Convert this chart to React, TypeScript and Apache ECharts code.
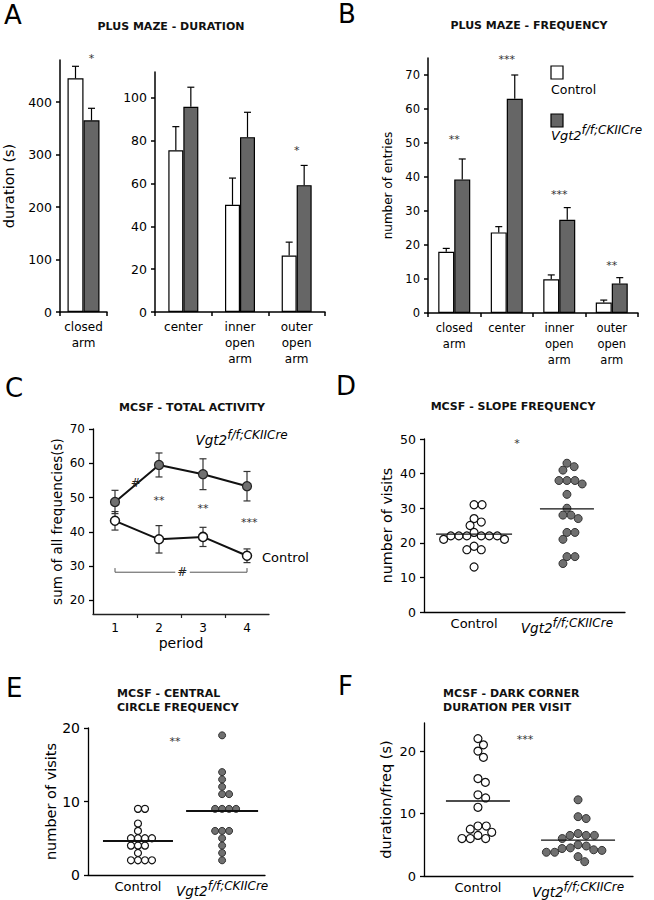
import React, { useEffect, useRef } from 'react';
import * as echarts from 'echarts';

const FONT = "'DejaVu Sans', Verdana, sans-serif";

// ---------- Panel A : plus maze duration ----------
const durClosedCats = ['closed\narm'];
const durClosedCtl = [445];
const durClosedCtlSem = [23];
const durClosedGt = [365];
const durClosedGtSem = [23];
const durClosedTicks = [0, 100, 200, 300, 400];
const durClosedStars = ['*'];
const durClosedStarY = [482];

const durArmCats = ['center', 'inner\nopen\narm', 'outer\nopen\narm'];
const durArmCtl = [75.5, 50, 26.4];
const durArmCtlSem = [11, 12.5, 6.2];
const durArmGt = [95.8, 81.6, 59.2];
const durArmGtSem = [9.1, 11.6, 9.2];
const durArmTicks = [0, 20, 40, 60, 80, 100];
const durArmStars = ['', '', '*'];
const durArmStarY = [0, 0, 75.5];

// ---------- Panel B : plus maze frequency ----------
const freqCats = ['closed\narm', 'center', 'inner\nopen\narm', 'outer\nopen\narm'];
const freqCtl = [18, 23.7, 9.9, 3.1];
const freqCtlSem = [1.0, 1.7, 1.3, 0.7];
const freqGt = [39.3, 63, 27.4, 8.7];
const freqGtSem = [6, 7, 3.6, 1.7];
const freqTicks = [0, 10, 20, 30, 40, 50, 60, 70];
const freqStars = ['**', '***', '***', '**'];
const freqStarY = [51, 74.5, 35, 14];

// ---------- Panel C : total activity ----------
const periods = [1, 2, 3, 4];
const actCtl = [43.2, 37.8, 38.5, 33];
const actCtlSem = [2.7, 4, 2.8, 2];
const actGt = [48.7, 59.5, 56.8, 53.3];
const actGtSem = [3.4, 3.5, 4.5, 4.3];
const actTicks = [20, 30, 40, 50, 60, 70];
const actStars = ['**', '**', '***'];
const actStarX = [2, 3, 4.05];
const actStarY = [49.2, 46.9, 42.8];

// ---------- Panels D, E, F : individual animals ----------
const slopeCtl = [31, 31, 27, 26, 25, 23, 22, 22, 22, 22, 22, 22, 21, 21, 19, 18, 18, 13];
const slopeGt = [43, 42, 41, 38, 38, 38, 37, 34, 30, 28, 28, 27, 23, 23, 21, 16, 16, 14];
const slopeTicks = [0, 10, 20, 30, 40, 50];

const circleCtl = [9, 9, 7, 6, 5, 5, 5, 5, 4, 4, 4, 3, 2, 2, 2, 2];
const circleGt = [19, 14, 13, 12, 11, 11, 9, 9, 9, 9, 6, 6, 6, 5, 4, 3, 2];
const circleTicks = [0, 10, 20];

const darkCtl = [22, 21, 20, 19, 15.6, 15, 13, 12.5, 11, 8, 8, 7.5, 7, 6.5, 6, 6, 6];
const darkGt = [12.2, 9.5, 9.2, 6.8, 6.5, 6.5, 6.5, 6.0, 5.0, 4.8, 4.5, 4.4, 4.2, 4.1, 3.8, 3.8, 3.1, 2.3];
const darkTicks = [0, 10, 20];

const groupNames = ['Control', 'Vgt2'];
const GT_RICH = '{it|Vgt2}{sup|f/f;CKIICre}';

// ---------- layout ----------
const GRIDS = [
  { left: 60, top: 60, width: 47, height: 252 },
  { left: 155, top: 72, width: 170, height: 240 },
  { left: 428, top: 58, width: 210, height: 255 },
  { left: 93, top: 429, width: 176, height: 185 },
  { left: 424, top: 439, width: 201, height: 173 },
  { left: 88, top: 728, width: 177, height: 147 },
  { left: 424, top: 723, width: 209, height: 153 },
];

const GRAY = '#666666';
const DOT_GRAY = '#707070';

function richFor(main: number, sup: number) {
  return {
    it: { fontFamily: FONT, fontStyle: 'italic', fontSize: main, fill: '#000', color: '#000' },
    sup: { fontFamily: FONT, fontStyle: 'italic', fontSize: sup, fill: '#000', color: '#000', padding: [0, 0, 10, 0] },
  };
}

function swarm(vals: number[], pxY: number, d: number): number[] {
  const order = vals.map((_, i) => i).sort((a, b) => vals[b] - vals[a]);
  const placed: { x: number; y: number }[] = [];
  const xs: number[] = new Array(vals.length).fill(0);
  for (const i of order) {
    const y = vals[i] * pxY;
    const forb: [number, number][] = [];
    for (const p of placed) {
      const dy = Math.abs(p.y - y);
      if (dy < d) {
        const w = Math.sqrt(d * d - dy * dy);
        forb.push([p.x - w, p.x + w]);
      }
    }
    const cands = [0];
    forb.forEach(([a, b]) => cands.push(a, b));
    cands.sort((a, b) => Math.abs(a) - Math.abs(b) || b - a);
    let x = 0;
    for (const c of cands) {
      if (forb.every(([a, b]) => c <= a + 1e-6 || c >= b - 1e-6)) { x = c; break; }
    }
    xs[i] = x;
    placed.push({ x, y });
  }
  return xs;
}

function errSeries(xi: number, data: number[][], shift: number, both: boolean, cap: number, color: string, lw: number, z = 5) {
  return {
    type: 'custom', xAxisIndex: xi, yAxisIndex: xi, z, silent: true, clip: false,
    data,
    renderItem: (_p: any, api: any) => {
      const x = api.value(0), v = api.value(1), e = api.value(2);
      const p = api.coord([x, v]);
      const hi = api.coord([x, v + e]);
      const lo = both ? api.coord([x, v - e]) : p;
      const cx = p[0] + shift;
      const st = { stroke: color, lineWidth: lw };
      const ch: any[] = [
        { type: 'line', shape: { x1: cx, y1: lo[1], x2: cx, y2: hi[1] }, style: st },
        { type: 'line', shape: { x1: cx - cap, y1: hi[1], x2: cx + cap, y2: hi[1] }, style: st },
      ];
      if (both) ch.push({ type: 'line', shape: { x1: cx - cap, y1: lo[1], x2: cx + cap, y2: lo[1] }, style: st });
      return { type: 'group', children: ch };
    },
  };
}

// Text annotations anchored in data space (custom series text elements).
function notes(xi: number, pts: any[][], fontSize: number, color: string, anchor: 'center' | 'left' = 'center', dx = 0, rich?: any) {
  const items = pts.filter(p => p[2] !== '');
  return {
    type: 'custom', xAxisIndex: xi, yAxisIndex: xi, silent: true, clip: false, z: 10,
    data: items.map((p, i) => [p[0], p[1], i]),
    renderItem: (params: any, api: any) => {
      const it = items[params.dataIndex];
      const c = api.coord([api.value(0), api.value(1)]);
      return {
        type: 'text', x: c[0] + dx, y: c[1],
        style: {
          text: it[2], fill: color, fontFamily: FONT, fontSize,
          align: anchor === 'left' ? 'left' : 'center', verticalAlign: 'middle', rich,
        },
      };
    },
  };
}

function yAx(gi: number, min: number, max: number, ticks: number[], fs: number, name: string, nameGap: number, nameSize: number, lw = 1.5) {
  return {
    type: 'value', gridIndex: gi, min, max,
    axisLine: { show: true, lineStyle: { color: '#000', width: lw } },
    axisTick: { show: true, length: 4, customValues: ticks, lineStyle: { color: '#000', width: lw } },
    axisLabel: { customValues: ticks, fontFamily: FONT, fontSize: fs, color: '#000', margin: 8 },
    splitLine: { show: false },
    name, nameLocation: 'middle', nameGap,
    nameTextStyle: { fontFamily: FONT, fontSize: nameSize, color: '#000' },
  };
}

function catAx(gi: number, data: string[], fs: number) {
  return {
    type: 'category', gridIndex: gi, data,
    axisLine: { lineStyle: { color: '#000', width: 1.5 } },
    axisTick: { show: true, length: 4, lineStyle: { color: '#000', width: 1.5 } },
    axisLabel: { fontFamily: FONT, fontSize: fs, color: '#000', lineHeight: 16, margin: 7, interval: 0 },
  };
}

function groupAx(gi: number, min: number, max: number) {
  return {
    type: 'value', gridIndex: gi, min, max,
    axisLine: { show: true, onZero: false, lineStyle: { color: '#000', width: 1.3 } },
    axisTick: { show: false },
    splitLine: { show: false },
    axisLabel: {
      customValues: [1, 2], margin: 5, fontFamily: FONT, fontSize: 13, color: '#000',
      formatter: (v: number) => (Math.round(v) === 1 ? groupNames[0] : GT_RICH),
      rich: richFor(13.5, 12),
    },
  };
}

function dotPanel(xi: number, ctl: number[], gt: number[], xr: number[], yMax: number, d: number, size: number, hw: number[], lw: number) {
  const g = GRIDS[xi];
  const pxX = g.width / (xr[1] - xr[0]);
  const pxY = g.height / yMax;
  const out: any[] = [];
  [ctl, gt].forEach((vals, k) => {
    const center = k + 1;
    const xs = swarm(vals, pxY, d);
    out.push({
      type: 'scatter', xAxisIndex: xi, yAxisIndex: xi, symbolSize: size, z: 4,
      data: vals.map((v, i) => [center + xs[i] / pxX, v]),
      itemStyle: k === 0
        ? { color: '#fff', borderColor: '#111', borderWidth: 1.2, opacity: 1 }
        : { color: DOT_GRAY, borderColor: '#333', borderWidth: 1, opacity: 1 },
    });
    const mean = vals.reduce((a, b) => a + b, 0) / vals.length;
    out.push({
      type: 'line', xAxisIndex: xi, yAxisIndex: xi, symbol: 'none', z: 5, silent: true,
      data: [[center - hw[k] / pxX, mean], [center + hw[k] / pxX, mean]],
      lineStyle: { color: '#111', width: lw },
    });
  });
  return out;
}

function buildOption(): any {
  const series: any[] = [];
  // Panel A closed
  series.push(
    { type: 'bar', xAxisIndex: 0, yAxisIndex: 0, data: durClosedCtl, barWidth: 16, barGap: '0%', itemStyle: { color: '#fff', borderColor: '#000', borderWidth: 1.2 } },
    { type: 'bar', xAxisIndex: 0, yAxisIndex: 0, data: durClosedGt, barWidth: 16, barGap: '0%', itemStyle: { color: GRAY, borderColor: '#000', borderWidth: 1.2 } },
    errSeries(0, durClosedCtl.map((v, i) => [i, v, durClosedCtlSem[i]]), -8, false, 3.5, '#000', 1.2),
    errSeries(0, durClosedGt.map((v, i) => [i, v, durClosedGtSem[i]]), 8, false, 3.5, '#000', 1.2),
    notes(0, durClosedStars.map((s, i) => [i, durClosedStarY[i], s]), 11, '#333', 'center', 8),
  );
  // Panel A arms
  series.push(
    { type: 'bar', xAxisIndex: 1, yAxisIndex: 1, data: durArmCtl, barWidth: 15, barGap: '0%', itemStyle: { color: '#fff', borderColor: '#000', borderWidth: 1.2 } },
    { type: 'bar', xAxisIndex: 1, yAxisIndex: 1, data: durArmGt, barWidth: 15, barGap: '0%', itemStyle: { color: GRAY, borderColor: '#000', borderWidth: 1.2 } },
    errSeries(1, durArmCtl.map((v, i) => [i, v, durArmCtlSem[i]]), -7.5, false, 3.5, '#000', 1.2),
    errSeries(1, durArmGt.map((v, i) => [i, v, durArmGtSem[i]]), 7.5, false, 3.5, '#000', 1.2),
    notes(1, durArmStars.map((s, i) => [i, durArmStarY[i], s]), 11, '#333'),
  );
  // Panel B
  series.push(
    { type: 'bar', xAxisIndex: 2, yAxisIndex: 2, data: freqCtl, barWidth: 16, barGap: '0%', itemStyle: { color: '#fff', borderColor: '#000', borderWidth: 1.2 } },
    { type: 'bar', xAxisIndex: 2, yAxisIndex: 2, data: freqGt, barWidth: 16, barGap: '0%', itemStyle: { color: GRAY, borderColor: '#000', borderWidth: 1.2 } },
    errSeries(2, freqCtl.map((v, i) => [i, v, freqCtlSem[i]]), -8, false, 3.5, '#000', 1.2),
    errSeries(2, freqGt.map((v, i) => [i, v, freqGtSem[i]]), 8, false, 3.5, '#000', 1.2),
    notes(2, freqStars.map((s, i) => [i, freqStarY[i], s]), 11, '#333'),
  );
  // Panel C
  series.push(
    errSeries(3, periods.map((p, i) => [p, actCtl[i], actCtlSem[i]]), 0, true, 3.5, '#333', 1.2, 2),
    errSeries(3, periods.map((p, i) => [p, actGt[i], actGtSem[i]]), 0, true, 3.5, '#333', 1.2, 2),
    {
      type: 'line', xAxisIndex: 3, yAxisIndex: 3, z: 4, symbol: 'circle', symbolSize: 9,
      data: periods.map((p, i) => [p, actCtl[i]]),
      lineStyle: { color: '#111', width: 2 },
      itemStyle: { color: '#fff', borderColor: '#111', borderWidth: 1.5 },
    },
    {
      type: 'line', xAxisIndex: 3, yAxisIndex: 3, z: 4, symbol: 'circle', symbolSize: 9,
      data: periods.map((p, i) => [p, actGt[i]]),
      lineStyle: { color: '#111', width: 2 },
      itemStyle: { color: DOT_GRAY, borderColor: '#222', borderWidth: 1.2 },
    },
    {
      type: 'line', xAxisIndex: 3, yAxisIndex: 3, symbol: 'none', silent: true,
      data: [[periods[0], 29.4], [periods[0], 28.2], [2.37, 28.2]],
      lineStyle: { color: '#555', width: 1 },
    },
    {
      type: 'line', xAxisIndex: 3, yAxisIndex: 3, symbol: 'none', silent: true,
      data: [[2.7, 28.2], [periods[3], 28.2], [periods[3], 29.4]],
      lineStyle: { color: '#555', width: 1 },
    },
    notes(3, actStars.map((s, i) => [actStarX[i], actStarY[i], s]), 11, '#333'),
    notes(3, [[1.47, 54.2, '#'], [2.53, 28.2, '#']], 12, '#222'),
    notes(3, [[2.83, 66.8, GT_RICH]], 13, '#000', 'left', 0, richFor(13.5, 12)),
    notes(3, [[4.34, 32.6, 'Control']], 13, '#000', 'left'),
  );
  // D, E, F
  series.push(...dotPanel(4, slopeCtl, slopeGt, [0.461, 2.625], 50, 8, 8, [38, 27], 1.3));
  series.push(notes(4, [[1.462, 48.8, '*']], 11, '#333'));
  series.push(...dotPanel(5, circleCtl, circleGt, [0.406, 2.51], 20, 7, 7, [35, 36], 2));
  series.push(notes(5, [[1.44, 18.1, '**']], 11, '#333'));
  series.push(...dotPanel(6, darkCtl, darkGt, [0.461, 2.549], 24.5, 8.3, 8, [32, 37], 1.3));
  series.push(notes(6, [[1.47, 21.9, '***']], 11, '#333'));

  const title = (x: number, y: number, text: string, align = 'center') => ({
    type: 'text', x, y, silent: true,
    style: {
      text, x: 0, y: 0, fill: '#111', fontFamily: FONT, fontWeight: 'bold', fontSize: 11, lineHeight: 14,
      align, textAlign: align, verticalAlign: 'middle', textVerticalAlign: 'middle',
    },
  });
  const letter = (x: number, y: number, text: string) => ({
    type: 'text', x, y, silent: true,
    style: {
      text, x: 0, y: 0, fill: '#000', fontFamily: FONT, fontSize: 26,
      align: 'left', textAlign: 'left', verticalAlign: 'middle', textVerticalAlign: 'middle',
    },
  });

  const graphic: any[] = [
    letter(4, 15, 'A'), letter(338, 14, 'B'), letter(5, 388, 'C'), letter(336, 386, 'D'), letter(6, 688, 'E'), letter(338, 686, 'F'),
    title(171, 26, 'PLUS MAZE - DURATION'),
    title(529, 25, 'PLUS MAZE - FREQUENCY'),
    title(192, 407, 'MCSF - TOTAL ACTIVITY'),
    title(513, 406, 'MCSF - SLOPE FREQUENCY'),
    title(117, 700, 'MCSF - CENTRAL\nCIRCLE FREQUENCY', 'left'),
    title(443, 700, 'MCSF - DARK CORNER\nDURATION PER VISIT', 'left'),
    { type: 'rect', shape: { x: 551, y: 66, width: 12, height: 13 }, style: { fill: '#fff', stroke: '#000', lineWidth: 1.2 }, silent: true },
    { type: 'rect', shape: { x: 551, y: 114, width: 12, height: 13 }, style: { fill: GRAY, stroke: '#000', lineWidth: 1.2 }, silent: true },
    {
      type: 'text', x: 551, y: 89, silent: true,
      style: { text: 'Control', x: 0, y: 0, fill: '#000', fontFamily: FONT, fontSize: 12.5, align: 'left', textAlign: 'left', verticalAlign: 'middle', textVerticalAlign: 'middle' },
    },
    {
      type: 'text', x: 551, y: 135, silent: true,
      style: { text: GT_RICH, rich: richFor(13, 12), x: 0, y: 0, fill: '#000', fontFamily: FONT, fontSize: 13, align: 'left', textAlign: 'left', verticalAlign: 'middle', textVerticalAlign: 'middle' },
    },
  ];

  return {
    animation: false,
    backgroundColor: '#fff',
    grid: GRIDS.map(g => ({ ...g, containLabel: false })),
    xAxis: [
      catAx(0, durClosedCats, 12),
      catAx(1, durArmCats, 12),
      catAx(2, freqCats, 11.5),
      {
        type: 'value', gridIndex: 3, min: 0.5, max: 4.5,
        axisLine: { show: true, onZero: false, lineStyle: { color: '#222', width: 1.3 } },
        axisTick: { show: true, length: 4, customValues: [1.5, 2.5, 3.5], lineStyle: { color: '#222', width: 1.2 } },
        axisLabel: { customValues: periods, fontFamily: FONT, fontSize: 12, color: '#000', margin: 8 },
        splitLine: { show: false },
        name: 'period', nameLocation: 'middle', nameGap: 22,
        nameTextStyle: { fontFamily: FONT, fontSize: 14, color: '#000' },
      },
      groupAx(4, 0.461, 2.625),
      groupAx(5, 0.406, 2.51),
      groupAx(6, 0.461, 2.549),
    ],
    yAxis: [
      yAx(0, 0, 480, durClosedTicks, 12.5, 'duration (s)', 44, 14.5),
      yAx(1, 0, 112, durArmTicks, 12.5, '', 0, 12),
      yAx(2, 0, 75, freqTicks, 11.5, 'number of entries', 34, 12),
      yAx(3, 16, 70, actTicks, 12, 'sum of all frequencies(s)', 29, 13.5, 1.3),
      yAx(4, 0, 50, slopeTicks, 12.5, 'number of visits', 30, 14.3, 1.3),
      yAx(5, 0, 20, circleTicks, 14, 'number of visits', 28, 14.5, 1.3),
      yAx(6, 0, 24.5, darkTicks, 13, 'duration/freq (s)', 31, 14.5, 1.3),
    ],
    series,
    graphic,
  };
}

export default function App() {
  const ref = useRef<HTMLDivElement>(null);
  useEffect(() => {
    if (!ref.current) return;
    const chart = echarts.init(ref.current, null, { renderer: 'svg' });
    chart.setOption(buildOption());
    return () => chart.dispose();
  }, []);
  return (
    <div
      ref={ref}
      style={{ position: 'absolute', left: 0, top: 0, width: 654, height: 900, background: '#fff' }}
    />
  );
}
